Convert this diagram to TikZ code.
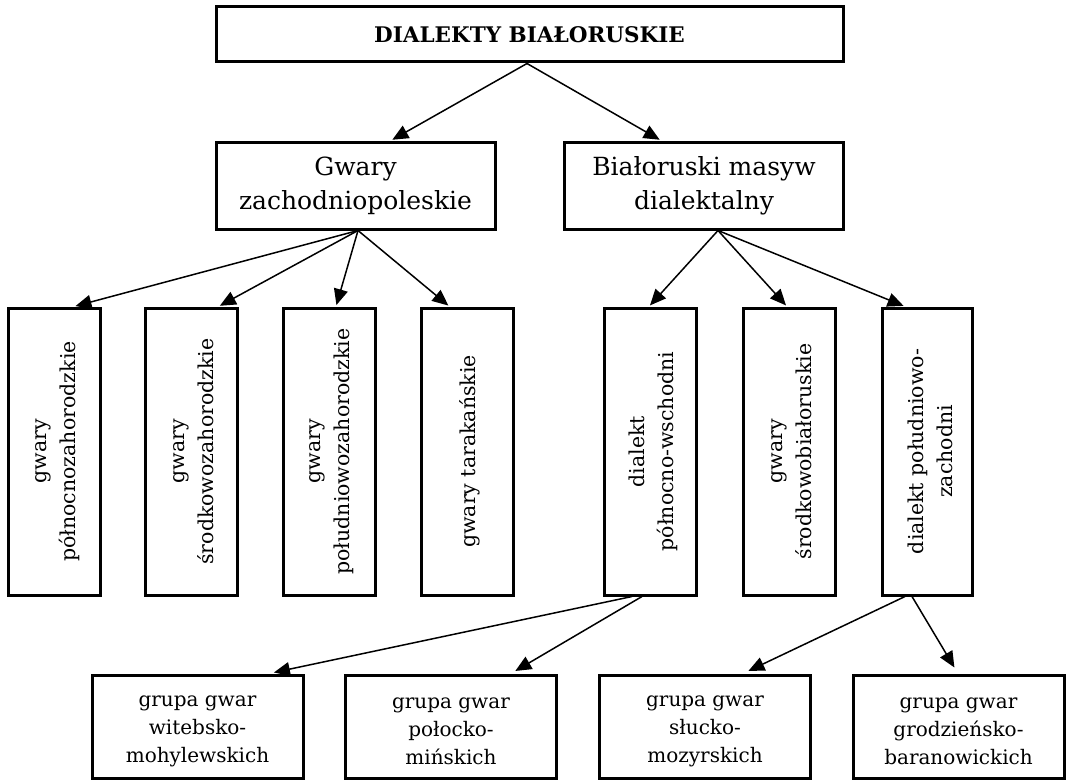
\documentclass[tikz,border=0pt]{standalone}
\usepackage{fontspec}
\setmainfont{DejaVu Serif}
\usetikzlibrary{arrows.meta}
\tikzset{
  every picture/.style={x=1pt, y=1pt},
  box/.style={draw, line width=3pt, align=center, inner sep=0pt},
  topbox/.style={box, minimum width=627pt, minimum height=55pt, font=\fontsize{21.5}{26}\selectfont\bfseries},
  midbox/.style={box, minimum width=279pt, minimum height=87pt, font=\fontsize{25}{34}\selectfont},
  vbox/.style={box, minimum width=92pt, minimum height=287pt},
  vtext/.style={rotate=90, align=center, font=\fontsize{20.5}{29}\selectfont},
  lowbox/.style={box, minimum width=211pt, minimum height=103pt},
  lowtext/.style={align=center, font=\fontsize{20}{28}\selectfont},
  arrow/.style={-{Triangle[length=16pt, width=14pt]}, line width=1.5pt, shorten >=1.5pt},
}

\begin{document}
\begin{tikzpicture}
  \useasboundingbox (0,0) rectangle (1067,-781);
  % top
  \node[topbox] (top) at (529.5,-34.5) {DIALEKTY BIAŁORUSKIE};
  % second level
  \node[midbox] (zach) at (355.5,-185.5) {Gwary\\zachodniopoleskie};
  \node[midbox] (masyw) at (704,-185.5) {Białoruski masyw\\dialektalny};
  \draw[arrow] ([xshift=-2.5pt]top.south) -- ([xshift=35.5pt]zach.north);
  \draw[arrow] ([xshift=-2.5pt]top.south) -- ([xshift=-43pt]masyw.north);
  % zachodniopoleskie
  \node[vbox] (pn) at (54,-451.5) {};
  \node[vtext] at ([xshift=4pt]pn.center) {gwary\\północnozahorodzkie};
  \node[vbox] (sr) at (191,-451.5) {};
  \node[vtext] at ([xshift=3pt]sr.center) {gwary\\środkowozahorodzkie};
  \node[vbox] (pd) at (329,-451.5) {};
  \node[vtext] at ([xshift=3pt]pd.center) {gwary\\południowozahorodzkie};
  \node[vbox] (tar) at (467,-451.5) {};
  \node[vtext] at ([xshift=3pt]tar.center) {gwary tarakańskie};
  \draw[arrow] ([xshift=2.5pt]zach.south) -- ([xshift=20pt]pn.north);
  \draw[arrow] ([xshift=2.5pt]zach.south) -- ([xshift=27.5pt]sr.north);
  \draw[arrow] ([xshift=2.5pt]zach.south) -- ([xshift=7pt]pd.north);
  \draw[arrow] ([xshift=2.5pt]zach.south) -- ([xshift=-17.5pt]tar.north);
  % masyw dialektalny
  \node[vbox] (pnw) at (650.5,-451.5) {};
  \node[vtext] at ([xshift=3pt]pnw.center) {dialekt\\północno-wschodni};
  \node[vbox] (srb) at (789,-451.5) {};
  \node[vtext] at ([xshift=3pt]srb.center) {gwary\\środkowobiałoruskie};
  \node[vbox, minimum width=90pt] (pdz) at (927,-451.5) {};
  \node[vtext] at ([xshift=3pt]pdz.center) {dialekt południowo-\\zachodni};
  \draw[arrow] ([xshift=14pt]masyw.south) -- ([xshift=-1.5pt]pnw.north);
  \draw[arrow] ([xshift=14pt]masyw.south) -- ([xshift=-2pt]srb.north);
  \draw[arrow] ([xshift=14pt]masyw.south) -- ([xshift=-22pt]pdz.north);
  % grupy gwar
  \node[lowbox] (wit) at (197.5,-726.5) {};
  \node[lowtext] at ([yshift=-5pt]wit.center) {grupa gwar\\witebsko-\\mohylewskich};
  \node[lowbox] (pol) at (451,-726.5) {};
  \node[lowtext] at ([yshift=-5pt]pol.center) {grupa gwar\\połocko-\\mińskich};
  \node[lowbox] (slu) at (705,-726.5) {};
  \node[lowtext] at ([yshift=-5pt]slu.center) {grupa gwar\\słucko-\\mozyrskich};
  \node[lowbox] (gro) at (958.5,-726.5) {};
  \node[lowtext] at ([yshift=-5pt]gro.center) {grupa gwar\\grodzieńsko-\\baranowickich};
  \draw[arrow, shorten >=5pt] ([xshift=-18.5pt]pnw.south) -- ([xshift=71.5pt]wit.north);
  \draw[arrow, shorten >=5pt] ([xshift=-8.5pt]pnw.south) -- ([xshift=60pt]pol.north);
  \draw[arrow, shorten >=6pt] ([xshift=-22pt]pdz.south) -- ([xshift=38pt]slu.north);
  \draw[arrow, shorten >=7pt] ([xshift=-15pt]pdz.south) -- ([xshift=-0.5pt]gro.north);
\end{tikzpicture}
\end{document}
